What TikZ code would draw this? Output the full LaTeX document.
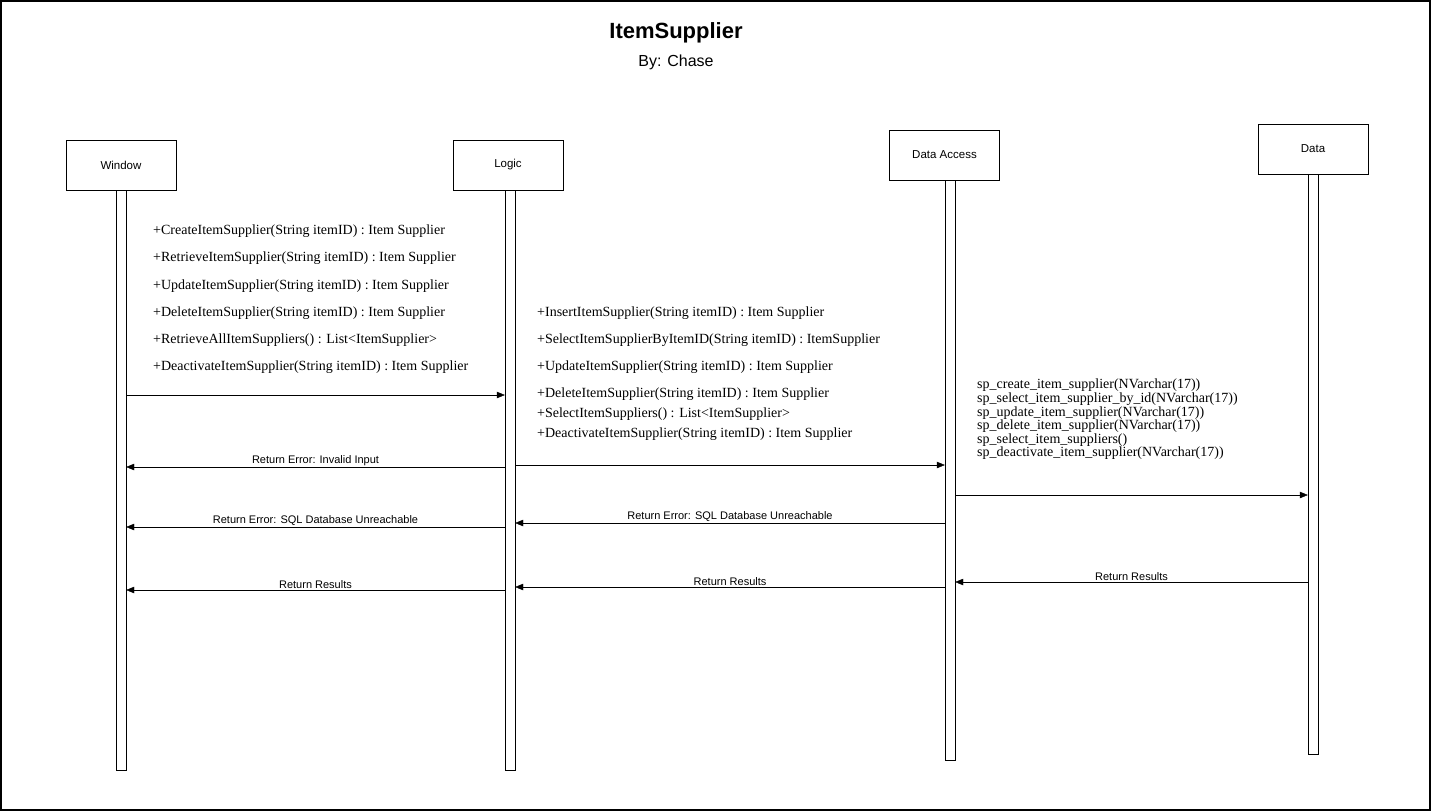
\documentclass[tikz,border=0pt]{standalone}
\usepackage{fontspec}
\setmainfont{Liberation Serif}
\newfontfamily\arialfont{Liberation Sans}
\usetikzlibrary{arrows.meta}

\tikzset{
    actor/.style={draw, minimum width=110pt, minimum height=50pt, font=\arialfont\fontsize{11.5}{13}\selectfont},
    lifeline/.style={draw, minimum width=10pt, minimum height=580pt, anchor=north},
    method/.style={anchor=west, inner sep=0pt, font=\fontsize{14}{16}\selectfont},
    msg/.style={-{Triangle[length=8pt,width=6.5pt]}},
    msglabel/.style={font=\arialfont\fontsize{11}{13}\selectfont, inner sep=0pt, above=1.5pt}
}

\begin{document}
\begin{tikzpicture}[x=1pt,y=-1pt]
    \useasboundingbox (0,0) rectangle (1431,811);
    \draw[line width=1.3pt] (1,1) rectangle (1430,810);

    \node (title) at (676,33) {\arialfont\bfseries\fontsize{22}{26}\selectfont ItemSupplier};
    \node (author) at (676,62) {\arialfont\fontsize{16}{19}\selectfont By: Chase};

    % participants
    \node[actor] (window) at (121,165) {Window};
    \node[lifeline] (wl) at (window.south) {};

    \node[actor] (logic) at (508,165) {Logic};
    \node[lifeline, xshift=2pt] (ll) at (logic.south) {};

    \node[actor] (access) at (944.5,155) {Data Access};
    \node[lifeline, xshift=5.5pt] (al) at (access.south) {};

    \node[actor] (data) at (1313,149) {Data};
    \node[lifeline] (dl) at (data.south) {};

    % window -> logic
    \node[method] (wm1) at (153,231) {+CreateItemSupplier(String itemID) : Item Supplier};
    \node[method] (wm2) at (153,258) {+RetrieveItemSupplier(String itemID) : Item Supplier};
    \node[method] (wm3) at (153,286) {+UpdateItemSupplier(String itemID) : Item Supplier};
    \node[method] (wm4) at (153,313) {+DeleteItemSupplier(String itemID) : Item Supplier};
    \node[method] (wm5) at (153,340) {+RetrieveAllItemSuppliers() : List<ItemSupplier>};
    \node[method] (wm6) at (153,367) {+DeactivateItemSupplier(String itemID) : Item Supplier};

    \draw[msg] (wl.east |- 0,395) -- (ll.west |- 0,395);

    % logic -> data access
    \node[method] (lm1) at (537,313) {+InsertItemSupplier(String itemID) : Item Supplier};
    \node[method] (lm2) at (537,340) {+SelectItemSupplierByItemID(String itemID) : ItemSupplier};
    \node[method] (lm3) at (537,367) {+UpdateItemSupplier(String itemID) : Item Supplier};
    \node[method] (lm4) at (537,394) {+DeleteItemSupplier(String itemID) : Item Supplier};
    \node[method] (lm5) at (537,414) {+SelectItemSuppliers() : List<ItemSupplier>};
    \node[method] (lm6) at (537,434) {+DeactivateItemSupplier(String itemID) : Item Supplier};

    \draw[msg] (ll.east |- 0,465) -- (al.west |- 0,465);
    \draw[msg] (ll.west |- 0,467) -- node[msglabel] (err1) {Return Error: Invalid Input} (wl.east |- 0,467);

    % data access -> data
    \node[method, anchor=north west, align=left, font=\fontsize{14}{13.6}\selectfont] (procs) at (977,379)
        {sp\_create\_item\_supplier(NVarchar(17))\\
         sp\_select\_item\_supplier\_by\_id(NVarchar(17))\\
         sp\_update\_item\_supplier(NVarchar(17))\\
         sp\_delete\_item\_supplier(NVarchar(17))\\
         sp\_select\_item\_suppliers()\\
         sp\_deactivate\_item\_supplier(NVarchar(17))};

    \draw[msg] (al.east |- 0,495) -- (dl.west |- 0,495);

    % errors
    \draw[msg] (al.west |- 0,523) -- node[msglabel] (err2) {Return Error: SQL Database Unreachable} (ll.east |- 0,523);
    \draw[msg] (ll.west |- 0,527) -- node[msglabel] (err3) {Return Error: SQL Database Unreachable} (wl.east |- 0,527);

    % results
    \draw[msg] (dl.west |- 0,582) -- node[msglabel] (res1) {Return Results} (al.east |- 0,582);
    \draw[msg] (al.west |- 0,587) -- node[msglabel] (res2) {Return Results} (ll.east |- 0,587);
    \draw[msg] (ll.west |- 0,590) -- node[msglabel] (res3) {Return Results} (wl.east |- 0,590);

\end{tikzpicture}
\end{document}
